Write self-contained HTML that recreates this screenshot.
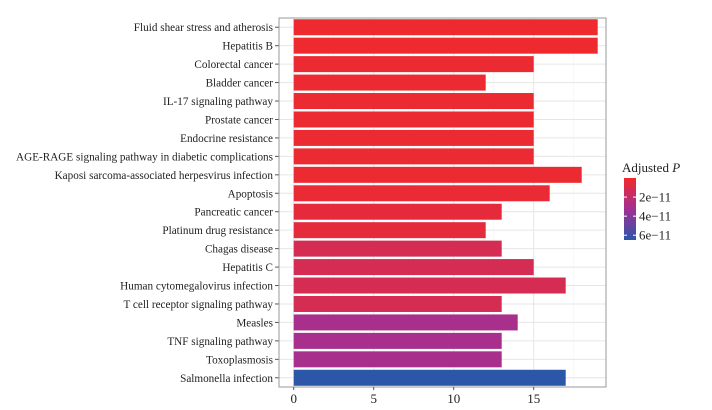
<!DOCTYPE html>
<html><head><meta charset="utf-8"><style>
body{margin:0;background:#fff;}
svg text{font-family:"Liberation Serif",serif;}
</style></head><body>
<svg id="c" width="712" height="405"></svg>
<script>
const categories=["Fluid shear stress and atherosis","Hepatitis B","Colorectal cancer","Bladder cancer","IL-17 signaling pathway","Prostate cancer","Endocrine resistance","AGE-RAGE signaling pathway in diabetic complications","Kaposi sarcoma-associated herpesvirus infection","Apoptosis","Pancreatic cancer","Platinum drug resistance","Chagas disease","Hepatitis C","Human cytomegalovirus infection","T cell receptor signaling pathway","Measles","TNF signaling pathway","Toxoplasmosis","Salmonella infection"];
const counts=[19,19,15,12,15,15,15,15,18,16,13,12,13,15,17,13,14,13,13,17];
const pvals=[0.1e-11,0.1e-11,0.2e-11,0.2e-11,0.2e-11,0.2e-11,0.2e-11,0.2e-11,0.2e-11,0.3e-11,0.5e-11,0.5e-11,1.2e-11,1.2e-11,1.2e-11,1.2e-11,3e-11,3e-11,3e-11,6.5e-11];
const xTicks=[0,5,10,15];
const legendTicks=[2e-11,4e-11,6e-11];
const legendLabels=["2e\u221211","4e\u221211","6e\u221211"];
const pMax=6.5e-11;
const NS="http://www.w3.org/2000/svg";
const svg=document.getElementById('c');
function el(t,a,p){const e=document.createElementNS(NS,t);for(const k in a)e.setAttribute(k,a[k]);(p||svg).appendChild(e);return e;}
const L=279,R=606,T=18,B=387,x0=293.7,ppu=16;
const X=v=>x0+v*ppu;
const rowH=(B-T)/categories.length;
const Y=i=>T+rowH*(i+0.5);
function lerp(a,b,t){return a.map((v,i)=>Math.round(v+(b[i]-v)*t));}
function color(p){const t=Math.min(1,p/pMax);const s=[[241,42,43],[162,47,148],[44,86,168]];
 const c=t<0.5?lerp(s[0],s[1],t/0.5):lerp(s[1],s[2],(t-0.5)/0.5);return `rgb(${c})`;}
const bg=el('rect',{x:L,y:T,width:R-L,height:B-T,fill:'#fff'});


for(let v=2.5;v<20;v+=5){el('line',{x1:X(v),x2:X(v),y1:T,y2:B,stroke:'#f2f2f2','stroke-width':0.6});}
xTicks.forEach(v=>{el('line',{x1:X(v),x2:X(v),y1:T,y2:B,stroke:'#e6e6e6','stroke-width':1});});
categories.forEach((c,i)=>{
 el('line',{x1:L,x2:R,y1:Y(i),y2:Y(i),stroke:'#e6e6e6','stroke-width':1});
 const r=el('rect',{x:X(0),y:Y(i)-8,width:X(counts[i])-X(0),height:16,fill:color(pvals[i])});
 
 
 const t=el('text',{x:273,y:Y(i)+4,'text-anchor':'end','font-size':11.2,fill:'#222'});t.textContent=c;
 
 
 el('line',{x1:275,x2:L,y1:Y(i),y2:Y(i),stroke:'#555'});
});
el('rect',{x:L,y:T,width:R-L,height:B-T,fill:'none',stroke:'#999','stroke-width':1});
xTicks.forEach(v=>{el('line',{x1:X(v),x2:X(v),y1:B,y2:B+3,stroke:'#555'});
 const t=el('text',{x:X(v),y:B+16,'text-anchor':'middle','font-size':13,fill:'#222'});t.textContent=v;
 
 });
const g=el('g',{});


const lt=el('text',{x:622,y:172,'font-size':13,fill:'#222'},g);lt.innerHTML='Adjusted <tspan font-style="italic">P</tspan>';
const defs=el('defs',{});const lg=el('linearGradient',{id:'gr',x1:0,y1:0,x2:0,y2:1},defs);
[0,0.25,0.5,0.75,1].forEach(o=>el('stop',{offset:o,'stop-color':color(o*pMax)},lg));
const cbTop=178,cbH=62;
el('rect',{x:624,y:cbTop,width:12,height:cbH,fill:'url(#gr)'},g);
legendTicks.forEach((v,i)=>{const y=cbTop+cbH*v/pMax;
 el('line',{x1:624,x2:627,y1:y,y2:y,stroke:'#fff'},g);el('line',{x1:633,x2:636,y1:y,y2:y,stroke:'#fff'},g);
 const t=el('text',{x:639,y:y+4.5,'font-size':13,fill:'#222'},g);t.textContent=legendLabels[i];});
</script>
</body></html>
